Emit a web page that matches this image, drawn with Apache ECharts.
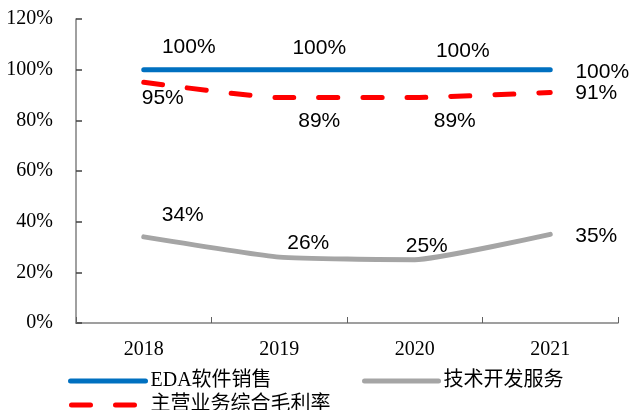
<!DOCTYPE html>
<html>
<head>
<meta charset="utf-8">
<script src="https://cdn.jsdelivr.net/npm/echarts@6/dist/echarts.min.js"></script>
<style>
  html, body { margin: 0; padding: 0; background: #fff; }
  #chart { width: 631px; height: 410px; }
</style>
</head>
<body>
<div id="chart"></div>
<script>
// Gross margin by business line, 2018-2021 (percent)
const years = ['2018', '2019', '2020', '2021'];
const edaSales = [100, 100, 100, 100];          // EDA软件销售
const techServices = [34, 26, 25, 35];          // 技术开发服务
const overallMargin = [95, 89, 89, 91];         // 主营业务综合毛利率
const yTicks = [0, 20, 40, 60, 80, 100, 120];

// label placement (pixel offsets from each point)
const edaLabelOffsets = [[45, -22], [40, -21], [48, -18], [52, 3]];
const overallLabelOffsets = [[19, 16], [40, 24], [40, 24], [46, 1]];
const techLabelOffsets = [[39, -22], [29, -14], [12, -13], [46, 2]];

const labelFont = { fontFamily: 'Liberation Sans, Arial, sans-serif', fontSize: 21, color: '#000' };

function withLabels(values, offsets) {
  return values.map((v, i) => ({
    value: v,
    label: {
      show: true,
      position: 'inside',
      offset: offsets[i],
      align: 'center',
      verticalAlign: 'middle',
      formatter: v + '%',
      ...labelFont
    }
  }));
}

function lineSeries(name, values, offsets, color, dashed) {
  return {
    name: name,
    type: 'line',
    smooth: 0.15,
    symbol: 'circle',
    symbolSize: 1,
    showSymbol: true,
    itemStyle: { color: 'rgba(0,0,0,0)', borderWidth: 0 },
    lineStyle: dashed
      ? { color: color, width: 5, type: [19, 25], cap: 'round' }
      : { color: color, width: 5, cap: 'round' },
    emphasis: { disabled: true },
    z: dashed ? 3 : 2,
    data: withLabels(values, offsets)
  };
}

function legendAt(name, left, top, width) {
  return {
    data: [name],
    left: left,
    top: top,
    padding: 0,
    itemWidth: width,
    itemHeight: 10,
    itemGap: 0,
    selectedMode: false,
    itemStyle: { color: 'rgba(0,0,0,0)', borderWidth: 0 },
    lineStyle: { width: 5, cap: 'round' },
    textStyle: {
      fontFamily: 'Liberation Serif, "Noto Sans CJK SC", serif',
      fontSize: 20,
      color: '#000'
    }
  };
}

const chart = echarts.init(document.getElementById('chart'));
chart.setOption({
  animation: false,
  backgroundColor: '#fff',
  grid: { left: 76, right: 13, top: 19, bottom: 87 },
  legend: [
    legendAt('EDA软件销售', 68, 371, 75),
    legendAt('技术开发服务', 362, 371, 74),
    legendAt('主营业务综合毛利率', 69, 395, 74)
  ],
  xAxis: {
    type: 'category',
    data: years,
    boundaryGap: true,
    axisLine: { lineStyle: { color: '#808080', width: 1.5 } },
    axisTick: { show: true, inside: true, length: 6, alignWithLabel: false, lineStyle: { color: '#606060', width: 1 } },
    axisLabel: { margin: 17, fontFamily: 'Liberation Serif, "Times New Roman", serif', fontSize: 20, color: '#000' }
  },
  yAxis: {
    type: 'value',
    min: yTicks[0],
    max: yTicks[yTicks.length - 1],
    interval: 20,
    splitLine: { show: false },
    axisLine: { show: true, lineStyle: { color: '#808080', width: 1.5 } },
    axisTick: { show: true, inside: true, length: 6, lineStyle: { color: '#404040', width: 1.5 } },
    axisLabel: {
      margin: 23,
      formatter: '{value}%',
      fontFamily: 'Liberation Serif, "Times New Roman", serif',
      fontSize: 20,
      color: '#000'
    }
  },
  series: [
    lineSeries('EDA软件销售', edaSales, edaLabelOffsets, '#0070C0', false),
    lineSeries('技术开发服务', techServices, techLabelOffsets, '#A5A5A5', false),
    lineSeries('主营业务综合毛利率', overallMargin, overallLabelOffsets, '#FF0000', true)
  ]
});
</script>
</body>
</html>
